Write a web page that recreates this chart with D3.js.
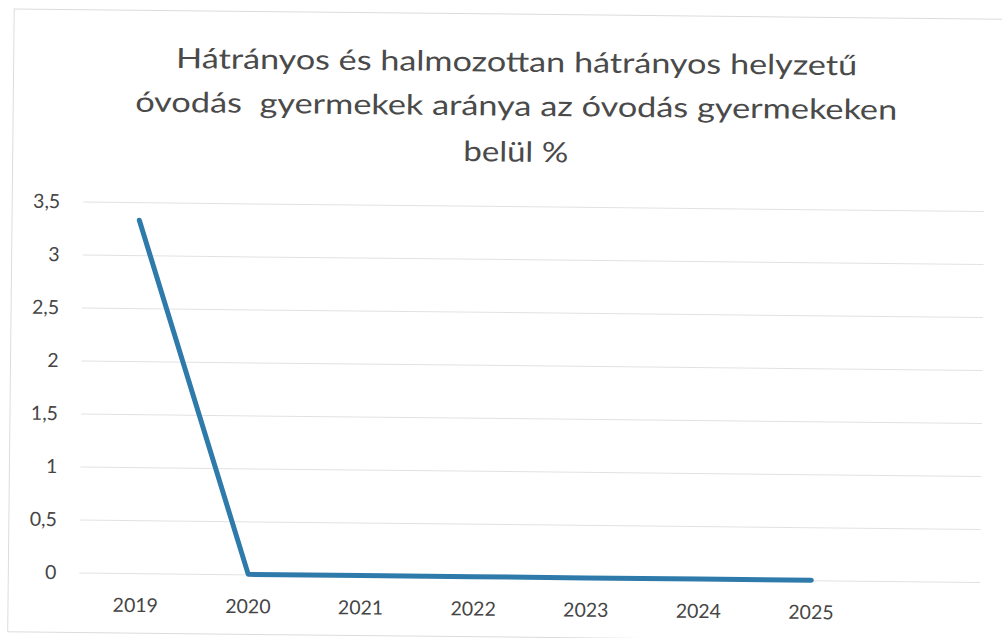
<!DOCTYPE html>
<html>
<head>
<meta charset="utf-8">
<script src="https://cdn.jsdelivr.net/npm/d3@7"></script>
<style>
  html, body { margin: 0; padding: 0; background: #fff; overflow: hidden; }
  svg { display: block; overflow: hidden; }
  text { font-family: Lato, "Open Sans", sans-serif; }
</style>
</head>
<body>
<div id="chart"></div>
<script>
// Adatok
const titleLines = [
    'Hátrányos és halmozottan hátrányos helyzetű',
    'óvodás  gyermekek aránya az óvodás gyermekeken',
    'belül %'
];
const years = ['2019', '2020', '2021', '2022', '2023', '2024', '2025'];
const categories = [...years, '']; // üres kategória a jobb szélen
const values = [3.33, 0, 0, 0, 0, 0, 0];
const yTicks = [0, 0.5, 1, 1.5, 2, 2.5, 3, 3.5];

const W = 1002, H = 638;
const margin = { top: 206, left: 82, right: 19, bottom: 61 };
const width = W - margin.left - margin.right;
const height = H - margin.top - margin.bottom;

const huFormat = d3.formatLocale({
    decimal: ',', thousands: ' ', grouping: [3], currency: ['', ' Ft']
}).format('~g');

const svg = d3.select('#chart')
    .append('svg')
    .attr('width', W)
    .attr('height', H);

// a beszkennelt ábra enyhén el van forgatva
const root = svg.append('g')
    .attr('transform', `rotate(0.6, ${W / 2}, ${H / 2})`);

// Diagramterület kerete
root.append('rect')
    .attr('x', 11).attr('y', 14)
    .attr('width', 1060).attr('height', 623)
    .attr('fill', 'none')
    .attr('stroke', '#dcdcdc')
    .attr('stroke-width', 1);

// Cím
const titleY = [71.5, 115.5, 161.5];
const titleLen = [681, 762, 105];
titleLines.forEach((t, i) => {
    root.append('text')
        .attr('x', 514).attr('y', titleY[i])
        .attr('text-anchor', 'middle')
        .attr('font-size', '28px')
        .attr('fill', '#4a4a4a')
        .attr('textLength', titleLen[i])
        .attr('lengthAdjust', 'spacingAndGlyphs')
        .style('white-space', 'pre')
        .text(t);
});

const g = root.append('g')
    .attr('transform', `translate(${margin.left},${margin.top})`);

// Skálák
const x = d3.scaleBand()
    .domain(categories)
    .range([0, width]);

const y = d3.scaleLinear()
    .domain([0, 3.5])
    .range([height, 0]);

// Rácsvonalak
g.append('g')
    .call(d3.axisLeft(y).tickValues(yTicks).tickSize(-width).tickFormat(''))
    .call(s => s.select('.domain').remove())
    .call(s => s.selectAll('line').attr('stroke', '#e2e2e2').attr('stroke-width', 1));

// Y tengely
g.append('g')
    .call(d3.axisLeft(y).tickValues(yTicks).tickSize(0).tickPadding(23).tickFormat(huFormat))
    .call(s => s.select('.domain').remove())
    .call(s => s.selectAll('text')
        .attr('font-size', '19.5px')
        .attr('fill', '#454545')
        .style('font-family', 'Lato, "Open Sans", sans-serif'));

// X tengely
g.append('g')
    .attr('transform', `translate(0,${height})`)
    .call(d3.axisBottom(x).tickSize(0).tickPadding(25))
    .call(s => s.select('.domain').remove())
    .call(s => s.selectAll('text')
        .attr('font-size', '19.5px')
        .attr('fill', '#454545')
        .style('font-family', 'Lato, "Open Sans", sans-serif'));

// Vonal
const data = years.map((yr, i) => ({ year: yr, value: values[i] }));
const line = d3.line()
    .x(d => x(d.year) + x.bandwidth() / 2)
    .y(d => y(d.value));

g.append('path')
    .datum(data)
    .attr('fill', 'none')
    .attr('stroke', '#2e7aab')
    .attr('stroke-width', 5)
    .attr('stroke-linejoin', 'round')
    .attr('stroke-linecap', 'round')
    .attr('d', line);
</script>
</body>
</html>
